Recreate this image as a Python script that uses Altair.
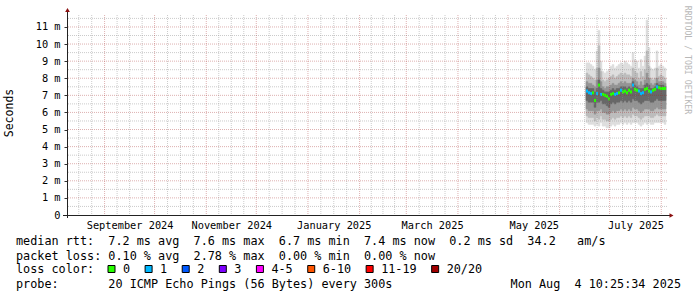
import altair as alt
import pandas as pd

# ---------------- chart values ----------------
graph_start = "2024-08-09 10:25:34"
graph_end = "2025-08-04 10:25:34"
first_step = "2025-06-16 20:00:00"
step_minutes = 1728          # one consolidated column = 1.2 days
n_cols = 40

median_ms = [7.25, 7.15, 7.1, 7.15, 6.7, 7.1, 7.6, 7.05, 7.05, 7.0,
             6.95, 6.8, 7.05, 7.1, 7.05, 7.1, 7.15, 7.3, 7.2, 7.25,
             7.15, 7.3, 7.2, 7.6, 7.35, 7.3, 7.25, 7.1, 7.15, 7.35,
             7.4, 7.25, 7.2, 7.3, 7.35, 7.5, 7.45, 7.4, 7.4, 7.4]
loss_class = [1, 1, 1, 0, 0, 1, 0, 1, 0, 0,
              0, 0, 0, 0, 1, 1, 0, 1, 0, 0,
              0, 0, 0, 1, 0, 0, 1, 1, 1, 0,
              0, 0, 1, 0, 0, 1, 0, 0, 0, 0]
# smoke bands (ms): outermost (hi1/lo1) to innermost (hi4/lo4)
hi1 = [8.9, 8.9, 8.8, 8.7, 8.5, 9.6, 10.8, 9.0, 8.4, 8.3,
       8.4, 8.5, 8.7, 8.8, 8.6, 8.7, 8.8, 8.9, 8.8, 9.0,
       8.9, 8.8, 8.7, 9.5, 9.1, 9.0, 8.6, 9.1, 8.7, 9.3,
       11.4, 9.8, 8.6, 8.5, 8.6, 9.6, 8.7, 8.8, 8.7, 8.6]
hi2 = [8.3, 8.2, 8.1, 8.0, 7.9, 8.6, 9.9, 8.4, 7.9, 7.8,
       7.9, 8.0, 8.1, 8.2, 8.0, 8.1, 8.2, 8.3, 8.2, 8.3,
       8.2, 8.2, 8.1, 8.6, 8.4, 8.3, 8.0, 8.4, 8.1, 8.5,
       9.6, 8.7, 8.0, 7.9, 8.0, 8.6, 8.1, 8.2, 8.1, 8.0]
hi3 = [7.8, 7.7, 7.7, 7.6, 7.5, 7.9, 8.6, 7.8, 7.5, 7.4,
       7.5, 7.5, 7.6, 7.7, 7.6, 7.6, 7.7, 7.8, 7.7, 7.8,
       7.7, 7.7, 7.7, 8.0, 7.9, 7.8, 7.6, 7.8, 7.6, 7.9,
       8.3, 8.0, 7.7, 7.6, 7.7, 8.0, 7.8, 7.8, 7.8, 7.7]
hi4 = [7.5, 7.4, 7.4, 7.4, 7.2, 7.4, 7.9, 7.4, 7.3, 7.2,
       7.2, 7.2, 7.3, 7.4, 7.3, 7.4, 7.4, 7.5, 7.5, 7.5,
       7.4, 7.5, 7.4, 7.8, 7.6, 7.5, 7.4, 7.4, 7.4, 7.6,
       7.7, 7.6, 7.4, 7.4, 7.5, 7.7, 7.6, 7.6, 7.6, 7.5]
lo4 = [6.7, 6.6, 6.6, 6.6, 6.3, 6.6, 6.6, 6.7, 6.5, 6.5,
       6.4, 6.3, 6.5, 6.6, 6.5, 6.6, 6.6, 6.7, 6.6, 6.7,
       6.6, 6.7, 6.6, 6.8, 6.7, 6.7, 6.6, 6.5, 6.6, 6.7,
       6.7, 6.7, 6.6, 6.6, 6.7, 6.8, 6.7, 6.7, 6.7, 6.7]
lo3 = [6.2, 6.1, 6.1, 6.1, 5.9, 6.1, 6.1, 6.2, 6.0, 6.0,
       5.9, 5.9, 6.0, 6.1, 6.0, 6.1, 6.1, 6.2, 6.1, 6.2,
       6.1, 6.2, 6.1, 6.3, 6.2, 6.2, 6.1, 6.0, 6.1, 6.2,
       6.2, 6.2, 6.1, 6.1, 6.2, 6.3, 6.2, 6.2, 6.2, 6.2]
lo2 = [5.8, 5.7, 5.7, 5.7, 5.5, 5.7, 5.6, 5.8, 5.6, 5.6,
       5.5, 5.5, 5.6, 5.7, 5.6, 5.7, 5.7, 5.8, 5.7, 5.8,
       5.7, 5.8, 5.7, 5.9, 5.8, 5.8, 5.7, 5.6, 5.7, 5.8,
       5.8, 5.8, 5.7, 5.7, 5.8, 5.9, 5.8, 5.8, 5.8, 5.8]
lo1 = [5.4, 5.3, 5.3, 5.3, 5.2, 5.3, 5.2, 5.4, 5.2, 5.2,
       5.1, 5.1, 5.2, 5.3, 5.2, 5.3, 5.3, 5.4, 5.3, 5.4,
       5.3, 5.4, 5.3, 5.4, 5.4, 5.4, 5.3, 5.2, 5.3, 5.4,
       5.3, 5.4, 5.3, 5.3, 5.4, 5.4, 5.4, 5.4, 5.4, 5.3]

loss_labels = ["0", "1", "2", "3", "4-5", "6-10", "11-19", "20/20"]
loss_colors = ["#26ff00", "#00b8ff", "#0059ff", "#7e00ff",
               "#ff00ff", "#ff5500", "#ff0000", "#a10000"]
y_major = list(range(0, 12))
y_minor = [0.5 + k for k in range(12)]
label_months = ["2024-09-01", "2024-11-01", "2025-01-01",
                "2025-03-01", "2025-05-01", "2025-07-01"]

line_rtt = "median rtt:  7.2 ms avg  7.6 ms max  6.7 ms min  7.4 ms now  0.2 ms sd  34.2   am/s"
line_loss = "packet loss: 0.10 % avg  2.78 % max  0.00 % min  0.00 % now"
line_color = "loss color:"
line_probe = "probe:       20 ICMP Echo Pings (56 Bytes) every 300s"
stamp = "Mon Aug  4 10:25:34 2025"
watermark = "RRDTOOL / TOBI OETIKER"
y_title = "Seconds"

# ---------------- helpers ----------------
NB = "\u00a0"
def nb(s):
    return s.replace(" ", NB)

def ms(t):
    return int(t.value // 10**6)

t_start = pd.Timestamp(graph_start, tz="UTC")
t_end = pd.Timestamp(graph_end, tz="UTC")

cols = pd.date_range(first_step, periods=n_cols, freq=f"{step_minutes}min", tz="UTC")
step = pd.Timedelta(minutes=step_minutes)
df = pd.DataFrame({
    "t0": [ms(c) for c in cols],
    "t1": [ms(c + step) for c in cols],
    "med": median_ms, "loss": loss_class,
    "hi1": hi1, "hi2": hi2, "hi3": hi3, "hi4": hi4,
    "lo1": lo1, "lo2": lo2, "lo3": lo3, "lo4": lo4,
})

months = pd.date_range("2024-08-01", "2025-09-01", freq="MS", tz="UTC")
major_x = [ms(m) for m in months if t_start <= m <= t_end]
minor_x = []
for a, b in zip(months[:-1], months[1:]):
    for k in (1, 2, 3):
        t = a + (b - a) * k / 4
        if t_start <= t <= t_end:
            minor_x.append(ms(t))
label_x = []
for s in label_months:
    a = pd.Timestamp(s, tz="UTC")
    b = a + pd.offsets.MonthBegin(1)
    label_x.append(ms(a + (b - a) / 2))

# ---------------- layout ----------------
L, T = 67, 15          # plot origin in the page
W, H = 600, 200
MONO = "DejaVu Sans Mono"
FS = 11.8
CW = FS * 0.602

xscale = alt.Scale(type="utc", domain=[ms(t_start), ms(t_end)], nice=False)
yscale = alt.Scale(domain=[0, 11.7], nice=False, zero=False)

xaxis = alt.Axis(values=label_x, labelExpr="utcFormat(datum.value, '%B %Y')",
                 domain=False, ticks=False, tickSize=0, grid=False,
                 labelFont=MONO, labelFontSize=10.3, labelColor="#000000",
                 labelPadding=5, labelOverlap=False, labelFlush=False, title=None)
yaxis = alt.Axis(values=y_major,
                 labelExpr=f"datum.value == 0 ? '0{NB}{NB}' : datum.value + '{NB}m'",
                 domain=False, ticks=True, tickSize=3, tickColor="#333333",
                 grid=False, labelFont=MONO, labelFontSize=10.3,
                 labelColor="#000000", labelPadding=4, labelFlush=False, title=None)

def X(field):
    return alt.X(field, scale=xscale, axis=xaxis, title=None)

def Y(field):
    return alt.Y(field, scale=yscale, axis=yaxis, title=None)

layers = []

shades = ["#dedede", "#bdbdbd", "#959595", "#696969"]
for k, c in enumerate(shades, start=1):
    layers.append(
        alt.Chart(df).mark_rect(color=c, stroke=c, strokeWidth=0.5).encode(
            x=X("t0:T"), x2="t1",
            y=Y(f"hi{k}:Q"), y2=f"lo{k}",
        )
    )

layers.append(
    alt.Chart(df).transform_calculate(
        mlo="datum.med - 0.09", mhi="datum.med + 0.09"
    ).mark_rect().encode(
        x=X("t0:T"), x2="t1",
        y=Y("mhi:Q"), y2="mlo:Q",
        color=alt.Color("loss:O", scale=alt.Scale(domain=list(range(8)), range=loss_colors),
                        legend=None),
    )
)

# grid (rrdtool draws it over the graph)
minor_col, major_col = "#8c8c8c", "#a02020"
layers.append(alt.Chart(pd.DataFrame({"v": y_minor})).mark_rule(
    color=minor_col, opacity=0.45, strokeDash=[1, 1], strokeWidth=1).encode(y=Y("v:Q")))
layers.append(alt.Chart(pd.DataFrame({"g": minor_x})).mark_rule(
    color=minor_col, opacity=0.45, strokeDash=[1, 1], strokeWidth=1).encode(x=X("g:T")))
layers.append(alt.Chart(pd.DataFrame({"v": y_major[1:]})).mark_rule(
    color=major_col, opacity=0.35, strokeDash=[1, 1], strokeWidth=1).encode(y=Y("v:Q")))
layers.append(alt.Chart(pd.DataFrame({"g": major_x})).mark_rule(
    color=major_col, opacity=0.35, strokeDash=[1, 1], strokeWidth=1).encode(x=X("g:T")))

one = pd.DataFrame({"o": [0]})
axis_col = "#222222"
arrow_col = "#8b1010"
# axis lines and arrows
layers.append(alt.Chart(one).mark_rule(color=axis_col, strokeWidth=1).encode(
    x=alt.value(-4), x2=alt.value(W + 3), y=alt.value(H + 0.5)))
layers.append(alt.Chart(one).mark_rule(color=axis_col, strokeWidth=1).encode(
    x=alt.value(0.5), y=alt.value(H + 3), y2=alt.value(-4)))
layers.append(alt.Chart(one).mark_point(shape="triangle-up", filled=True, size=22,
                                         color=arrow_col, opacity=1).encode(
    x=alt.value(0.5), y=alt.value(-5)))
layers.append(alt.Chart(one).mark_point(shape="triangle-right", filled=True, size=22,
                                         color=arrow_col, opacity=1).encode(
    x=alt.value(W + 4.5), y=alt.value(H + 0.5)))

def text_layer(s, ax, ay, align="left", size=FS, color="#000000", angle=0):
    kw = dict(text=nb(s), align=align, baseline="middle", font=MONO,
              fontSize=size, color=color)
    if angle:
        kw["angle"] = angle
    return alt.Chart(one).mark_text(**kw).encode(x=alt.value(ax - L), y=alt.value(ay - T))

layers.append(text_layer(y_title, 10, 113, align="center", size=11.5, angle=270))
layers.append(text_layer(watermark, 687, 60, align="center", size=8.2,
                         color="#b8b8b8", angle=90))
layers.append(text_layer(line_rtt, 16, 241))
layers.append(text_layer(line_loss, 16, 255.5))
layers.append(text_layer(line_color, 16, 269))
layers.append(text_layer(line_probe, 16, 284))
layers.append(text_layer(stamp, 681, 284, align="right"))

# loss colour legend boxes
bx = 108.0
for lab, col in zip(loss_labels, loss_colors):
    layers.append(alt.Chart(one).mark_rect(color=col, stroke="#000000", strokeWidth=1).encode(
        x=alt.value(bx - L), x2=alt.value(bx - L + 7),
        y=alt.value(265.5 - T), y2=alt.value(272.5 - T)))
    layers.append(text_layer(lab, bx + 15, 269))
    bx = bx + 15 + len(lab) * CW + 15

chart = alt.layer(*layers).properties(
    width=W, height=H,
    padding={"left": L, "top": T, "right": 697 - L - W, "bottom": 297 - T - H},
    autosize="none",
    background="#ffffff",
).configure_view(stroke=None)

chart.save("out.html", embed_options={"renderer": "svg", "actions": False})
